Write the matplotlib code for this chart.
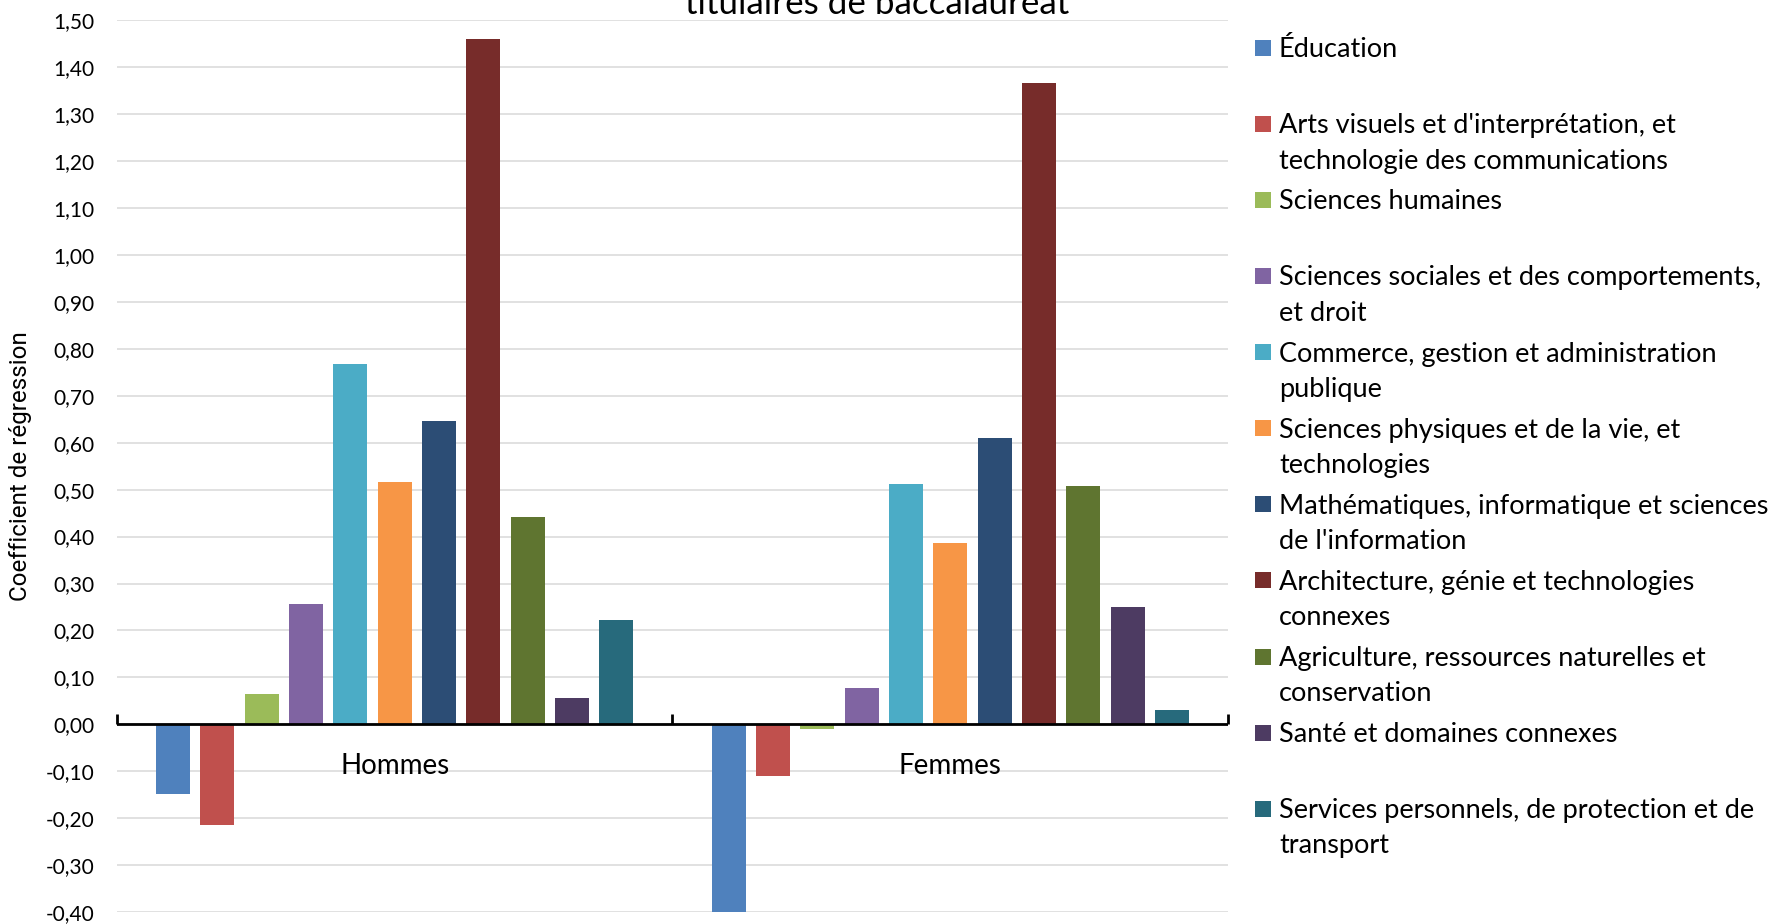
import matplotlib
matplotlib.use("Agg")
import matplotlib.pyplot as plt
import numpy as np
from matplotlib.ticker import FuncFormatter, MultipleLocator
from matplotlib.patches import Rectangle
from matplotlib import font_manager

# Data
groups = ["Hommes", "Femmes"]
fields = [
    "Éducation",
    "Arts visuels et d'interprétation, et\ntechnologie des communications",
    "Sciences humaines",
    "Sciences sociales et des comportements,\net droit",
    "Commerce, gestion et administration\npublique",
    "Sciences physiques et de la vie, et\ntechnologies",
    "Mathématiques, informatique et sciences\nde l'information",
    "Architecture, génie et technologies\nconnexes",
    "Agriculture, ressources naturelles et\nconservation",
    "Santé et domaines connexes",
    "Services personnels, de protection et de\ntransport",
]
hommes = [-0.148, -0.214, 0.065, 0.256, 0.768, 0.516, 0.646, 1.460, 0.441, 0.056, 0.222]
femmes = [-0.400, -0.111, -0.009, 0.078, 0.513, 0.386, 0.610, 1.366, 0.508, 0.249, 0.031]
colors = ["#4F81BD", "#C0504D", "#9BBB59", "#8064A2", "#4BACC6", "#F79646",
          "#2C4D75", "#772C2A", "#5F7530", "#4D3B62", "#276A7C"]
title_tail = "titulaires de baccalauréat"
ylabel = "Coefficient de régression"

FONT = ["Lato", "DejaVu Sans"]
names = {f.name for f in font_manager.fontManager.ttflist}
NARROW = ["Liberation Sans Narrow", "Lato"] if "Liberation Sans Narrow" in names else ["Roboto", "Lato"]
plt.rcParams["font.family"] = FONT

W, H = 1781, 924
fig = plt.figure(figsize=(W / 100, H / 100), dpi=100)
fig.patch.set_facecolor("white")

def fx(px):
    return px / W

def fy(py):
    return 1 - py / H

ax = fig.add_axes([fx(117), fy(912), fx(1228) - fx(117), fy(20.4) - fy(912)])

x = np.arange(len(groups))
slot = 0.0798
width = 0.0613
n = len(fields)
for i, c in enumerate(colors):
    vals = [hommes[i], femmes[i]]
    ax.bar(x + (i - (n - 1) / 2) * slot, vals, width, color=c, zorder=2, linewidth=0)

ax.set_xlim(-0.5, len(groups) - 0.5)
ax.set_ylim(-0.4, 1.5)
ax.yaxis.set_major_locator(MultipleLocator(0.1))

def fmt(v, p):
    if abs(v) < 1e-9:
        v = 0.0
    return f"{v:.2f}".replace(".", ",")

ax.yaxis.set_major_formatter(FuncFormatter(fmt))
ax.grid(axis="y", color="#d9d9d9", lw=1.1, zorder=0)
ax.set_axisbelow(True)
for s in ax.spines.values():
    s.set_visible(False)
ax.tick_params(axis="y", length=0, pad=16, labelsize=15, labelcolor="#000000")
ax.set_xticks([])

# Category axis at zero with its tick marks
ax.axhline(0, color="black", lw=2, zorder=3)
ax.vlines(np.arange(len(groups) + 1) - 0.5, 0, 0.021, color="black", lw=2,
          zorder=3, clip_on=False)
for xi, g in zip(x, groups):
    ax.annotate(g, (xi, 0), xytext=(0, -30), textcoords="offset points",
                ha="center", va="center", fontsize=20)

# Axis title and figure title
fig.text(fx(21), fy(466), ylabel, rotation=90, ha="center", va="center",
         fontsize=17.4, family=NARROW)
fig.text(fx(877), fy(14), title_tail, ha="center", va="baseline", fontsize=25.2)

# Legend
sq = 16
for k, (lab, c) in enumerate(zip(fields, colors)):
    yc = 47.7 + k * 76.1
    fig.add_artist(Rectangle((fx(1255), fy(yc + sq / 2)), fx(sq), sq / H,
                             transform=fig.transFigure, color=c, lw=0))
    for j, line in enumerate(lab.split("\n")):
        fig.text(fx(1279), fy(yc + 9.5 + j * 35.2), line, ha="left",
                 va="baseline", fontsize=19.5)

fig.savefig("out.png", dpi=100)
